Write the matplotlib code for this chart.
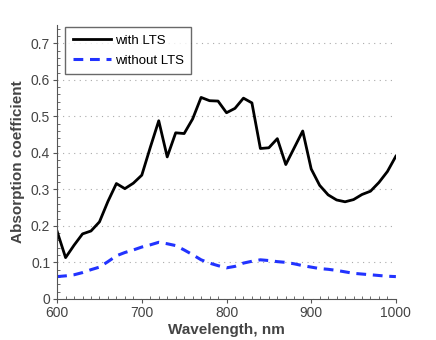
import matplotlib
matplotlib.use("Agg")
import matplotlib.pyplot as plt
from matplotlib.ticker import MultipleLocator
import numpy as np

# wavelength grid, nm
wavelength = np.arange(600, 1001, 10)

with_lts = [0.185, 0.113, 0.147, 0.178, 0.186, 0.211, 0.267, 0.316, 0.302, 0.317,
            0.339, 0.415, 0.488, 0.389, 0.455, 0.453, 0.493, 0.552, 0.543, 0.542,
            0.510, 0.522, 0.550, 0.537, 0.412, 0.414, 0.439, 0.368, 0.414, 0.460,
            0.356, 0.311, 0.285, 0.271, 0.266, 0.272, 0.286, 0.295, 0.319, 0.349,
            0.391]

without_lts = [0.061, 0.063, 0.066, 0.072, 0.080, 0.087, 0.102, 0.118, 0.127, 0.134,
               0.142, 0.148, 0.155, 0.151, 0.146, 0.134, 0.121, 0.107, 0.098, 0.091,
               0.085, 0.089, 0.098, 0.103, 0.107, 0.105, 0.102, 0.100, 0.096, 0.091,
               0.087, 0.083, 0.081, 0.078, 0.074, 0.070, 0.068, 0.066, 0.064, 0.062,
               0.061]

plt.rcParams['font.family'] = ['Liberation Sans', 'DejaVu Sans']

fig = plt.figure(figsize=(4.36, 3.40), dpi=100)
ax = fig.add_axes([0.131, 0.121, 0.777, 0.805])

ax.plot(wavelength, with_lts, color='black', lw=2.0, label='with LTS')
ax.plot(wavelength, without_lts, color='#2233ff', lw=2.2, ls=(0, (3.2, 2.2)),
        label='without LTS')

ax.set_xlim(600, 1000)
ax.set_ylim(0, 0.75)
ax.xaxis.set_major_locator(MultipleLocator(100))
ax.xaxis.set_minor_locator(MultipleLocator(10))
ax.yaxis.set_major_locator(MultipleLocator(0.1))
ax.yaxis.set_minor_locator(MultipleLocator(0.02))
ax.set_yticks(np.arange(0, 0.71, 0.1))
ax.set_yticklabels(['0', '0.1', '0.2', '0.3', '0.4', '0.5', '0.6', '0.7'])

ax.yaxis.grid(True, which='major', ls=(0, (1, 4)), color='#aaaaaa', lw=0.8)
ax.set_axisbelow(True)

for side in ('top', 'right'):
    ax.spines[side].set_visible(False)
for side in ('left', 'bottom'):
    ax.spines[side].set_color('#555555')
    ax.spines[side].set_linewidth(0.8)

ax.tick_params(which='major', direction='out', length=3, width=0.8, color='#555555',
               labelsize=10, labelcolor='#444444', pad=2)
ax.tick_params(which='minor', direction='in', length=2, width=0.6, color='#555555')

ax.set_xlabel('Wavelength, nm', fontsize=11, fontweight='bold', color='#444444', labelpad=2)
ax.set_ylabel('Absorption coefficient', fontsize=11, fontweight='bold', color='#444444', labelpad=4)

leg = ax.legend(loc='upper left', bbox_to_anchor=(0.024, 0.993), borderaxespad=0,
                fontsize=9.5, frameon=True, fancybox=False, handlelength=2.95,
                borderpad=0.55, labelspacing=0.6, handletextpad=0.25)
leg.get_frame().set_edgecolor('#444444')
leg.get_frame().set_linewidth(1.0)

fig.savefig('out.png', dpi=100)
